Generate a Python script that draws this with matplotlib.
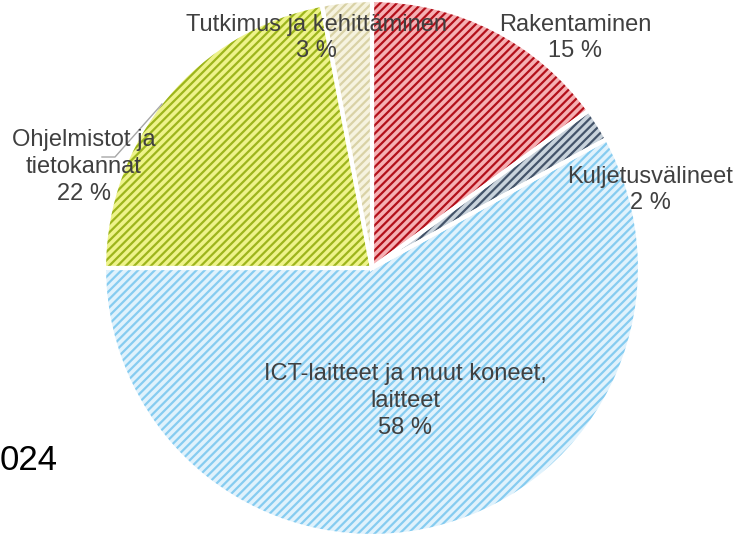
import matplotlib.pyplot as plt

# data
labels = ['Rakentaminen', 'Kuljetusvälineet', 'ICT-laitteet ja muut koneet,\nlaitteet',
          'Ohjelmistot ja\ntietokannat', 'Tutkimus ja kehittäminen']
shares = [15, 2, 58, 22, 3]

faces = ['#f5b0b3', '#c9d3dc', '#e0f2fc', '#eef38a', '#f6f3df']
hatch_cols = ['#b3101a', '#44546a', '#86ccf0', '#9db51c', '#d9d2a6']

# label positions in pixels (layout only)
label_px = [(575, 38), (650, 190), (405, 401), (84, 167), (316, 38)]

plt.rcParams['font.family'] = ['Liberation Sans', 'DejaVu Sans']
plt.rcParams['hatch.linewidth'] = 1.6

fig = plt.figure(figsize=(7.38, 5.35), dpi=100)
ax = fig.add_axes([0, 0, 1, 1])

R = 268.0
cx, cy = 372.0, 268.0


def to_data(px, py):
    return (px - cx) / R, (cy - py) / R


wedges, _ = ax.pie(shares, startangle=90, counterclock=False, radius=1,
                   colors=faces, wedgeprops=dict(linewidth=0))
for w, hc in zip(wedges, hatch_cols):
    w.set_edgecolor(hc)
    w.set_hatch('////')
    w.set_linewidth(0)

# white separators
ax.pie(shares, startangle=90, counterclock=False, radius=1,
       colors=['none'] * len(shares),
       wedgeprops=dict(linewidth=3, edgecolor='white', fill=False))

for lab, s, (px, py) in zip(labels, shares, label_px):
    x, y = to_data(px, py)
    ax.text(x, y, f'{lab}\n{s} %', ha='center', va='center', fontsize=17,
            color='#404040', linespacing=1.27)

# leader line for Ohjelmistot
lx, ly = zip(*[to_data(162, 104), to_data(115, 157), to_data(102, 157)])
ax.plot(lx, ly, color='#a6a6a6', lw=1)

# year text, its first digit falls outside the picture in the original
x0, y0 = to_data(0, 460)
ax.text(x0, y0, '024', ha='left', va='center', fontsize=25, color='black')

ax.set_xlim((0 - cx) / R, (738 - cx) / R)
ax.set_ylim((cy - 535) / R, (cy - 0) / R)
ax.set_aspect('equal')
ax.axis('off')

fig.savefig('out.png', dpi=100)
